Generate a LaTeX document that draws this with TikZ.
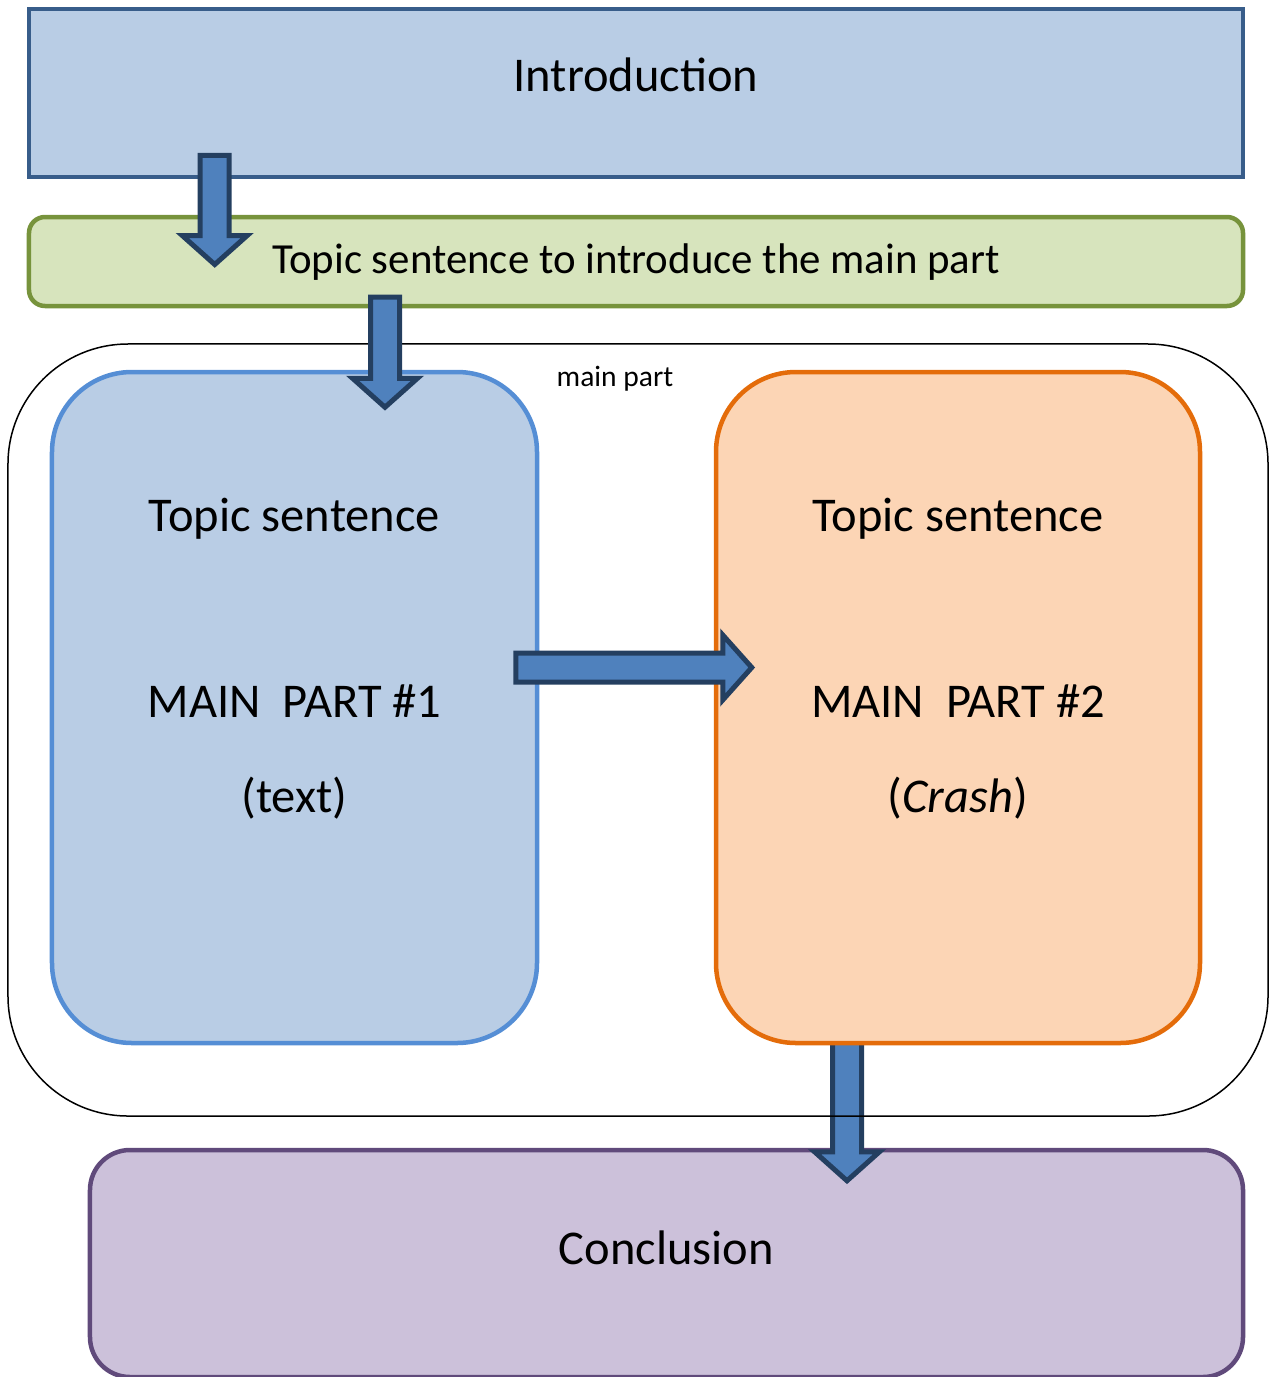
\documentclass[tikz,border=0pt]{standalone}
\usepackage{fontspec}
\setmainfont{Carlito}
\usepackage{xcolor}
\usepackage{tikz}
\usetikzlibrary{calc,shapes,positioning}

\definecolor{introfill}{HTML}{B9CDE5}
\definecolor{introline}{HTML}{385D8A}
\definecolor{topicfill}{HTML}{D7E4BD}
\definecolor{topicline}{HTML}{77933C}
\definecolor{leftfill}{HTML}{B9CDE5}
\definecolor{leftline}{HTML}{558ED5}
\definecolor{rightfill}{HTML}{FCD5B5}
\definecolor{rightline}{HTML}{E46C0A}
\definecolor{conclfill}{HTML}{CCC1DA}
\definecolor{conclline}{HTML}{604A7B}
\definecolor{arrowfill}{HTML}{4F81BD}
\definecolor{arrowline}{HTML}{243F60}

\pgfdeclarelayer{bottom}
\pgfdeclarelayer{back}
\pgfsetlayers{bottom,back,main}

\begin{document}
\begin{tikzpicture}[x=0.2mm,y=-0.2mm,
        txt/.style={anchor=base,font=\fontsize{27.6}{33}\selectfont},
        blockarrow/.style={draw=arrowline,fill=arrowfill,line width=1mm,
            to path={let \p1=($(\tikztotarget)!5.8mm!(\tikztostart)$) in
                ($(\tikztostart)!2.9mm!90:(\tikztotarget)$) -- ($(\p1)!2.9mm!90:(\tikztotarget)$)
                -- ($(\p1)!6.5mm!90:(\tikztotarget)$) -- (\tikztotarget)
                -- ($(\p1)!6.5mm!-90:(\tikztotarget)$) -- ($(\p1)!2.9mm!-90:(\tikztotarget)$)
                -- ($(\tikztostart)!2.9mm!-90:(\tikztotarget)$) -- cycle}}]
        \useasboundingbox (0,0) rectangle (1272,1377);

        %boxes
        \begin{scope}[every node/.style={rectangle,inner sep=0pt,line width=0.9mm}]
            \node[draw=introline,fill=introfill,minimum width=242.8mm,minimum height=33.6mm] (intro) at (636,93) {};
            \node[draw=topicline,fill=topicfill,rounded corners=3.2mm,minimum width=242.8mm,minimum height=17.8mm] (topicbox) at (636,261.5) {};
            \node[draw=black,line width=0.3mm,rounded corners=24mm,minimum width=252mm,minimum height=154.4mm] (mainpart) at (638,730) {};
            \node[draw=leftline,fill=leftfill,rounded corners=16mm,minimum width=97mm,minimum height=134.2mm] (leftbox) at (294.5,707.5) {};
            \node[draw=rightline,fill=rightfill,rounded corners=16mm,minimum width=96.8mm,minimum height=134.2mm] (rightbox) at (958,707.5) {};
            \begin{pgfonlayer}{bottom}
                \node[draw=conclline,fill=conclfill,rounded corners=8mm,minimum width=230.6mm,minimum height=45.4mm] (conclusion) at (666.5,1263.5) {};
            \end{pgfonlayer}
        \end{scope}

        %texts
        \node[txt] (introtext) at ($(intro.north)+(0,85)$) {Introduction};
        \node[txt,font=\fontsize{24.4}{29}\selectfont] (topictext) at ($(topicbox.center)+(0,11.5)$) {Topic sentence to introduce the main part};
        \node[txt,font=\fontsize{16.8}{20}\selectfont] (maintext) at ($(mainpart.north)+(-23,43)$) {main part};
        \node[txt] (lefttopic) at ($(leftbox.north)+(0,162)$) {Topic sentence};
        \node[txt] (leftmain) at ($(leftbox.north)+(0,348)$) {MAIN\ \ PART \#1};
        \node[txt] (lefttext) at ($(leftbox.north)+(0,443)$) {(text)};
        \node[txt] (righttopic) at ($(rightbox.north)+(0,162)$) {Topic sentence};
        \node[txt] (rightmain) at ($(rightbox.north)+(0,348)$) {MAIN\ \ PART \#2};
        \node[txt] (righttext) at ($(rightbox.north)+(0,443)$) {(\textit{Crash})};
        \node[txt] (concltext) at ($(conclusion.north)+(0,117)$) {Conclusion};

        %arrows
        \begin{scope}
            \coordinate (a1s) at ($(intro.south west)+(188,-24)$);
            \coordinate (a1e) at ($(a1s |- topicbox.center)+(0,3)$);
            \coordinate (a2s) at ($(leftbox.north)+(90.5,-72.5)$);
            \coordinate (a2e) at ($(leftbox.north)+(90.5,37.5)$);
            \coordinate (a3s) at ($(leftbox.east)+(-23.5,-40)$);
            \coordinate (a3e) at ($(rightbox.west)+(38,-40)$);
            \coordinate (a4s) at ($(rightbox.south)+(-111,-5)$);
            \coordinate (a4e) at ($(a4s |- conclusion.north)+(0,33)$);
            \draw[blockarrow] (a1s) to (a1e);
            \draw[blockarrow] (a2s) to (a2e);
            \draw[blockarrow] (a3s) to (a3e);
            \begin{pgfonlayer}{back}
                \draw[blockarrow] (a4s) to (a4e);
            \end{pgfonlayer}
        \end{scope}
\end{tikzpicture}
\end{document}
